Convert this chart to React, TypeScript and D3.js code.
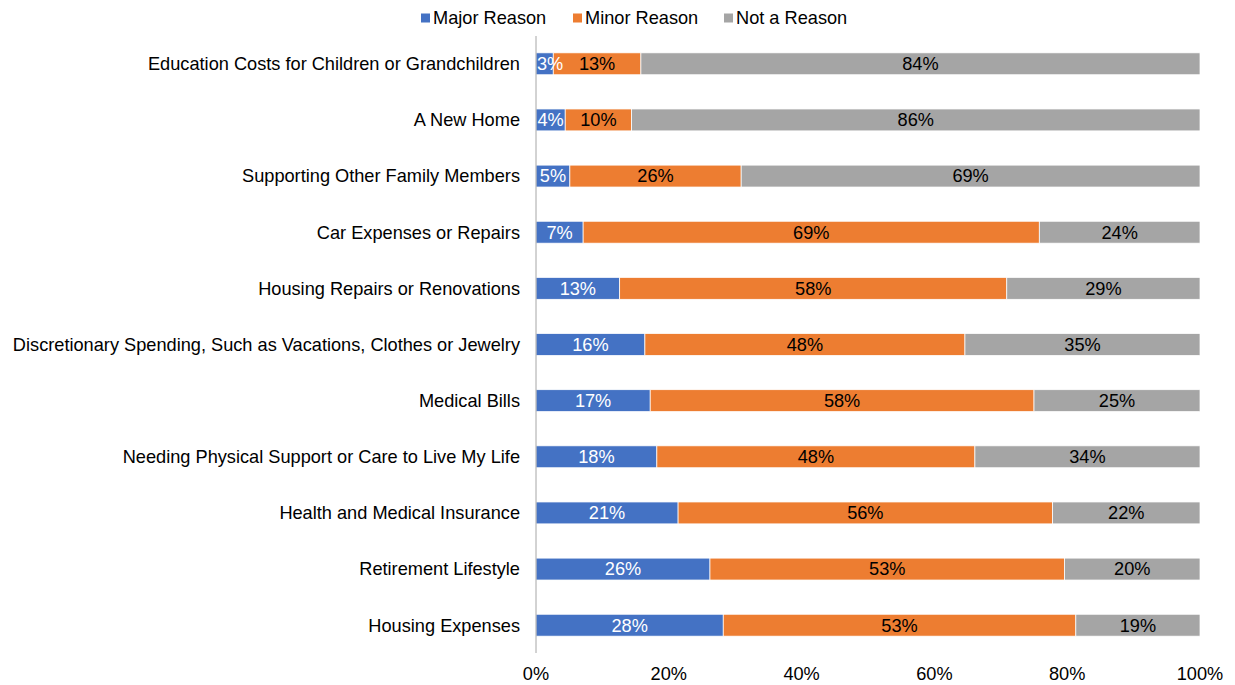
import { useEffect, useRef } from 'react';
import * as d3 from 'd3';

const categories = [
  'Education Costs for Children or Grandchildren',
  'A New Home',
  'Supporting Other Family Members',
  'Car Expenses or Repairs',
  'Housing Repairs or Renovations',
  'Discretionary Spending, Such as Vacations, Clothes or Jewelry',
  'Medical Bills',
  'Needing Physical Support or Care to Live My Life',
  'Health and Medical Insurance',
  'Retirement Lifestyle',
  'Housing Expenses',
];

const seriesNames = ['Major Reason', 'Minor Reason', 'Not a Reason'];
const seriesColors = ['#4472c4', '#ed7d31', '#a5a5a5'];
const labelColors = ['#ffffff', '#000000', '#000000'];

const majorReason = [2.6, 4.4, 5.1, 7.1, 12.6, 16.4, 17.2, 18.2, 21.4, 26.2, 28.2];
const minorReason = [13.2, 10.0, 25.8, 68.7, 58.3, 48.2, 57.8, 47.9, 56.4, 53.4, 53.1];
const notAReason = [84.2, 85.6, 69.1, 24.2, 29.1, 35.4, 25.0, 33.9, 22.2, 20.4, 18.7];

const xTicks = [0, 20, 40, 60, 80, 100];

function App() {
  const ref = useRef<SVGSVGElement>(null);

  useEffect(() => {
    const svg = d3.select(ref.current);
    svg.selectAll('*').remove();

    const width = 1235;
    const height = 685;
    const margin = { top: 36, right: 35, bottom: 32, left: 536 };
    const font = 'Liberation Sans, Arial, sans-serif';
    const fs = 18.2;

    const rows = categories.map((c, i) => ({
      name: c,
      values: [majorReason[i], minorReason[i], notAReason[i]],
    }));

    const x = d3.scaleLinear().domain([0, 100]).range([margin.left, width - margin.right]);
    const y = d3
      .scaleBand()
      .domain(categories)
      .range([margin.top, height - margin.bottom])
      .paddingInner(0.61)
      .paddingOuter(0.3);

    // segments with their positions
    const segs = rows.flatMap((row) => {
      let acc = 0;
      return row.values.map((v, k) => {
        const s = { name: row.name, v, k, x0: x(acc), x1: x(acc + v) };
        acc += v;
        return s;
      });
    });

    const barG = svg.append('g');
    segs.forEach((s) => {
      barG
        .append('rect')
        .attr('x', s.x0)
        .attr('y', y(s.name)!)
        .attr('width', s.x1 - s.x0)
        .attr('height', y.bandwidth())
        .attr('fill', seriesColors[s.k])
        .attr('stroke', '#ffffff')
        .attr('stroke-width', 0.75);
    });

    // y axis line
    svg
      .append('line')
      .attr('x1', x(0))
      .attr('x2', x(0))
      .attr('y1', margin.top)
      .attr('y2', height - margin.bottom)
      .attr('stroke', '#a6a6a6')
      .attr('stroke-width', 1);

    // data labels (kept inside the plot on the left)
    const labelG = svg.append('g');
    segs.forEach((s) => {
      const t = labelG
        .append('text')
        .attr('x', (s.x0 + s.x1) / 2)
        .attr('y', y(s.name)! + y.bandwidth() / 2)
        .attr('dy', '0.35em')
        .attr('text-anchor', 'middle')
        .attr('font-family', font)
        .attr('font-size', fs)
        .attr('fill', labelColors[s.k])
        .text(d3.format('.0f')(s.v) + '%');
      const w = (t.node() as SVGTextElement).getComputedTextLength();
      const left = (s.x0 + s.x1) / 2 - w / 2;
      if (left < x(0) + 1) t.attr('x', x(0) + 1 + w / 2);
    });

    // category labels
    svg
      .append('g')
      .selectAll('text')
      .data(categories)
      .enter()
      .append('text')
      .attr('x', x(0) - 16)
      .attr('y', (d) => y(d)! + y.bandwidth() / 2)
      .attr('dy', '0.35em')
      .attr('text-anchor', 'end')
      .attr('font-family', font)
      .attr('font-size', fs)
      .attr('fill', '#000')
      .text((d) => d);

    // x tick labels
    svg
      .append('g')
      .selectAll('text')
      .data(xTicks)
      .enter()
      .append('text')
      .attr('x', (d) => x(d))
      .attr('y', 674)
      .attr('dy', '0.35em')
      .attr('text-anchor', 'middle')
      .attr('font-family', font)
      .attr('font-size', fs)
      .attr('fill', '#000')
      .text((d) => d + '%');

    // legend
    const legendX = [421, 573, 724];
    seriesNames.forEach((s, k) => {
      svg
        .append('rect')
        .attr('x', legendX[k])
        .attr('y', 13.5)
        .attr('width', 9)
        .attr('height', 9)
        .attr('fill', seriesColors[k]);
      svg
        .append('text')
        .attr('x', legendX[k] + 12)
        .attr('y', 18)
        .attr('dy', '0.35em')
        .attr('font-family', font)
        .attr('font-size', fs)
        .attr('fill', '#000')
        .text(s);
    });
  }, []);

  return (
    <div style={{ position: 'absolute', left: 0, top: 0, width: 1235, height: 685, overflow: 'hidden' }}>
      <svg ref={ref} width={1235} height={685} style={{ display: 'block' }} />
    </div>
  );
}

export default App;
